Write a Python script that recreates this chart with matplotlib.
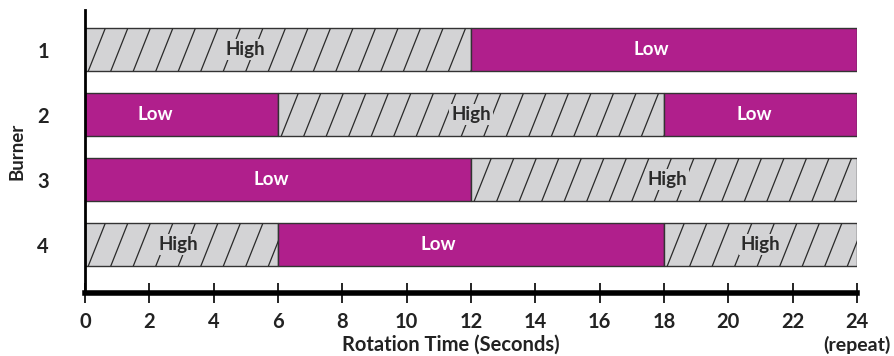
import matplotlib.pyplot as plt
from matplotlib.collections import LineCollection

plt.rcParams['font.family'] = ['Lato', 'DejaVu Sans']

# burner schedules: (start, duration, state)
burners = ['1', '2', '3', '4']
starts = [[0, 12], [0, 6, 18], [0, 12], [0, 6, 18]]
durations = [[12, 12], [6, 12, 6], [12, 12], [6, 12, 6]]
states = [['High', 'Low'], ['Low', 'High', 'Low'], ['Low', 'High'], ['High', 'Low', 'High']]
# where the text sits inside each segment (seconds)
label_x = [[5.0, 17.6], [2.2, 12.0, 20.8], [5.8, 18.1], [2.9, 11.0, 21.0]]
xticks = [0, 2, 4, 6, 8, 10, 12, 14, 16, 18, 20, 22, 24]

purple = '#B01F8C'
gray = '#D3D3D5'
dark = '#222222'
bar_h = 0.66

fig = plt.figure(figsize=(8.94, 3.56), dpi=100)
ax = fig.add_axes([0.095, 0.177, 0.8635, 0.795])

for i, b in enumerate(burners):
    y = i + 1
    for s, d, st, lx in zip(starts[i], durations[i], states[i], label_x[i]):
        if st == 'High':
            bars = ax.barh(y, d, left=s, height=bar_h, color=gray,
                           edgecolor='#333333', linewidth=1.0)
            # steep diagonal hatching, clipped to the bar
            segs = []
            x0 = s - 0.6
            while x0 < s + d:
                segs.append([(x0, y + bar_h / 2), (x0 + 0.53, y - bar_h / 2)])
                x0 += 0.70
            lc = LineCollection(segs, colors='#2a2a2a', linewidths=0.9, zorder=1.5)
            ax.add_collection(lc)
            lc.set_clip_path(bars[0])
            ax.text(lx, y, 'High', ha='center', va='center', fontsize=13.5,
                    fontweight='bold', color='#2a2a2a', zorder=3,
                    bbox=dict(facecolor=gray, edgecolor='none', pad=1.5))
        else:
            ax.barh(y, d, left=s, height=bar_h, color=purple,
                    edgecolor='#333333', linewidth=1.0)
            ax.text(lx, y, 'Low', ha='center', va='center', fontsize=13.5,
                    fontweight='bold', color='white', zorder=3)

ax.set_xlim(0, 24)
ax.set_ylim(4.74, 0.385)
ax.set_xticks(xticks)
ax.set_yticks([1, 2, 3, 4])
ax.set_yticklabels(burners)

for side in ['top', 'right']:
    ax.spines[side].set_visible(False)
ax.spines['left'].set_linewidth(2)
ax.spines['bottom'].set_linewidth(4)
ax.tick_params(axis='x', direction='inout', length=14, width=1.2, pad=7,
               labelsize=14.5)
ax.tick_params(axis='y', length=0, pad=26, labelsize=14.5)
for lab in ax.get_xticklabels() + ax.get_yticklabels():
    lab.set_fontweight('bold')
    lab.set_color(dark)

ax.set_xlabel('Rotation Time (Seconds)', fontsize=14.5, fontweight='bold',
              color=dark)
ax.xaxis.set_label_coords(0.474, -0.148)
ax.set_ylabel('Burner', fontsize=13.5, fontweight='bold', color=dark,
              labelpad=8)
ax.text(24, -0.185, '(repeat)', transform=ax.get_xaxis_transform(), ha='center',
        va='center', fontsize=14, fontweight='bold', color=dark)

fig.savefig('out.png', dpi=100)
